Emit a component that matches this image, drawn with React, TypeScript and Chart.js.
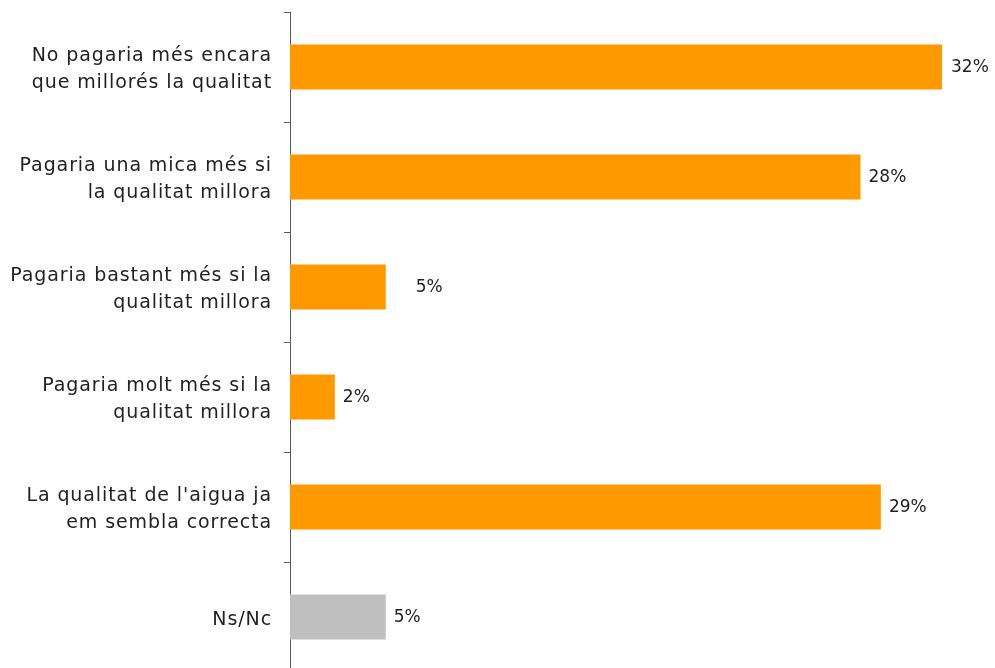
import React, { useEffect, useRef } from "react";
import { Chart, registerables } from "chart.js";

Chart.register(...registerables);

const categories: string[][] = [
  ["No pagaria més encara", "que millorés la qualitat"],
  ["Pagaria una mica més si", "la qualitat millora"],
  ["Pagaria bastant més si la", "qualitat millora"],
  ["Pagaria molt més si la", "qualitat millora"],
  ["La qualitat de l'aigua ja", "em sembla correcta"],
  ["Ns/Nc"],
];
const values: number[] = [32, 28, 4.7, 2.2, 29, 4.7];
const valueLabels: string[] = ["32%", "28%", "5%", "2%", "29%", "5%"];
const barColors: string[] = ["#FF9900", "#FF9900", "#FF9900", "#FF9900", "#FF9900", "#BFBFBF"];
const labelOffsets = [9, 8, 30, 8, 8, 8];

const FONT = "'DejaVu Sans', sans-serif";

const spacingPlugin = {
  id: "tickSpacing",
  beforeDraw(chart: any) {
    (chart.ctx as any).letterSpacing = "0.9px";
  },
  beforeDatasetsDraw(chart: any) {
    (chart.ctx as any).letterSpacing = "0px";
  },
};

const valueLabelPlugin = {
  id: "valueLabels",
  afterDatasetsDraw(chart: any) {
    const ctx = chart.ctx;
    const meta = chart.getDatasetMeta(0);
    ctx.save();
    ctx.letterSpacing = "0px";
    ctx.font = `17px ${FONT}`;
    ctx.fillStyle = "#222222";
    ctx.textAlign = "left";
    ctx.textBaseline = "middle";
    meta.data.forEach((bar: any, i: number) => {
      ctx.fillText(valueLabels[i], bar.x + labelOffsets[i], bar.y + 1);
    });
    ctx.restore();
  },
};

export default function App() {
  const ref = useRef<HTMLCanvasElement>(null);
  useEffect(() => {
    if (!ref.current) return;
    const chart = new Chart(ref.current, {
      type: "bar",
      data: {
        labels: categories,
        datasets: [
          {
            data: values,
            backgroundColor: barColors,
            borderWidth: 0,
            barPercentage: 1,
            categoryPercentage: 45 / 110,
          },
        ],
      },
      options: {
        indexAxis: "y",
        animation: false,
        responsive: false,
        devicePixelRatio: 1,
        layout: { padding: { top: 12, bottom: 8, left: 0, right: 12.25 } },
        plugins: { legend: { display: false }, tooltip: { enabled: false } },
        scales: {
          x: { display: false, min: 0, max: 34 },
          y: {
            afterFit: (s: any) => {
              s.width = 290;
              s.paddingTop = 0;
              s.paddingBottom = 0;
            },
            border: { display: true, color: "#595959", width: 1 },
            grid: {
              display: true,
              drawOnChartArea: false,
              drawTicks: true,
              tickLength: 6,
              color: "#595959",
              offset: true,
            },
            ticks: {
              padding: 12,
              labelOffset: 3,
              color: "#222222",
              font: { family: FONT, size: 19, lineHeight: 1.42 },
            },
          },
        },
      },
      plugins: [spacingPlugin, valueLabelPlugin],
    });
    return () => chart.destroy();
  }, []);
  return (
    <div style={{ position: "fixed", left: 0, top: 0, width: 995, height: 680 }}>
      <canvas ref={ref} width={995} height={680} style={{ display: "block" }} />
    </div>
  );
}
